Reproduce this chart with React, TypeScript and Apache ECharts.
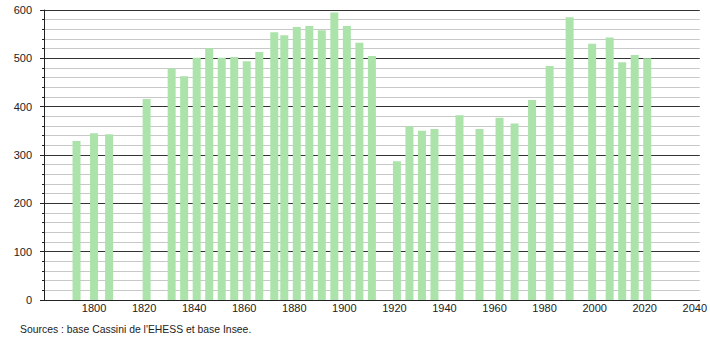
import React, { useEffect, useRef } from "react";
import * as echarts from "echarts";

const years = [1793, 1800, 1806, 1821, 1831, 1836, 1841, 1846, 1851, 1856, 1861, 1866, 1872, 1876, 1881, 1886, 1891, 1896, 1901, 1906, 1911, 1921, 1926, 1931, 1936, 1946, 1954, 1962, 1968, 1975, 1982, 1990, 1999, 2006, 2011, 2016, 2021];
const population = [329, 345, 343, 416, 479, 463, 501, 521, 501, 503, 494, 513, 554, 548, 565, 567, 558, 595, 567, 532, 505, 287, 359, 350, 354, 382, 354, 377, 365, 414, 484, 585, 530, 543, 492, 507, 500];
const sourceText = "Sources : base Cassini de l'EHESS et base Insee.";

export default function App() {
  const ref = useRef<HTMLDivElement>(null);
  useEffect(() => {
    document.body.style.margin = "0";
    if (!ref.current) return;
    const chart = echarts.init(ref.current, null, { renderer: "svg" });
    const font = "'Liberation Sans', Arial, sans-serif";
    chart.setOption({
      animation: false,
      textStyle: { fontFamily: font },
      grid: { left: 44, right: 10, top: 10, bottom: 40 },
      xAxis: {
        type: "value",
        min: 1780,
        max: 2042,
        interval: 20,
        axisLine: { show: true, lineStyle: { color: "#222", width: 1 } },
        axisTick: { show: false },
        splitLine: { show: false },
        axisLabel: {
          fontSize: 11,
          color: "#222",
          margin: 2,
          formatter: (v: number) => (v % 20 === 0 && v > 1780 ? String(v) : ""),
        },
      },
      yAxis: {
        type: "value",
        min: 0,
        max: 600,
        interval: 100,
        axisLine: { show: true, lineStyle: { color: "#222", width: 1 } },
        axisTick: { show: true, length: 4, lineStyle: { color: "#222" } },
        minorTick: { show: true, splitNumber: 5, length: 2, lineStyle: { color: "#222" } },
        splitLine: { show: true, lineStyle: { color: "#333", width: 1 } },
        minorSplitLine: { show: true, lineStyle: { color: "#c8c8c8", width: 1 } },
        axisLabel: { fontSize: 11, color: "#222", margin: 12 },
      },
      series: [
        {
          type: "bar",
          barWidth: 8,
          itemStyle: { color: "#abe3ab" },
          data: years.map((y, i) => [y, population[i]]),
        },
      ],
      graphic: [
        {
          type: "text",
          left: 20,
          top: 324,
          style: { text: sourceText, fontSize: 10.4, fill: "#222", fontFamily: font },
        },
      ],
    });
    return () => chart.dispose();
  }, []);
  return <div ref={ref} style={{ width: 710, height: 340 }} />;
}
